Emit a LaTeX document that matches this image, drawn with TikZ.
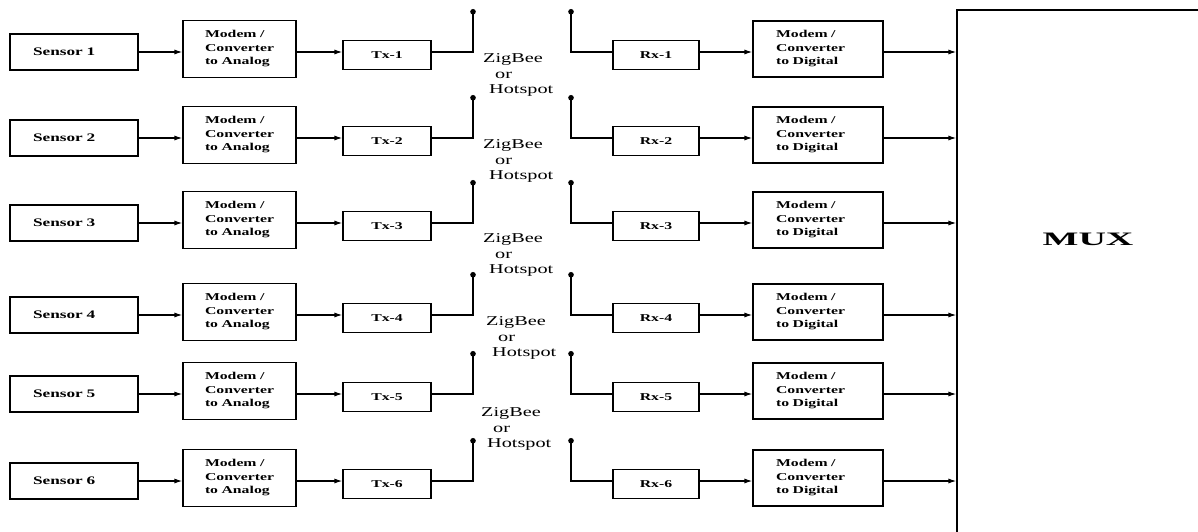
\documentclass[tikz,border=0pt]{standalone}
\usepackage{fontspec}
\setmainfont{Liberation Serif}[FakeStretch=1.5]
\newfontfamily\muxfont{Liberation Serif}[FakeStretch=2.0]
\usepackage{tikz}
\usetikzlibrary{arrows.meta}

\begin{document}
\begin{tikzpicture}[x=1pt, y=-1pt,
    blockbox/.style={draw, line width=1.1pt, inner ysep=0pt, align=left,
        font=\fontsize{10.5}{13.5}\selectfont\bfseries},
    arr/.style={line width=1.3pt, -{Latex[length=8pt,width=5pt]}},
    antout/.style={line width=1.3pt, -{Circle[length=5.5pt]}},
    antin/.style={line width=1.3pt, {Circle[length=5.5pt]}-},
    linklabel/.style={anchor=west, inner sep=0pt, align=left,
        font=\fontsize{13.5}{15.5}\selectfont}]
    \useasboundingbox (0,0) rectangle (1198,532);
    \clip (0,0) rectangle (1198,532);

    % receiver side block
    \node[draw, line width=1.1pt, minimum width=286pt, minimum height=550pt] (mux) at (1100,285) {};
    \node[inner sep=0pt, font=\muxfont\fontsize{19}{22}\selectfont\bfseries] (muxlabel) at (1088,239) {MUX};

    % one row per sensor
    \foreach \i/\y in {1/52, 2/138, 3/223, 4/315, 5/394, 6/481} {
        \node[blockbox, inner xsep=23pt, text width=82pt, minimum height=36pt,
            font=\fontsize{11.5}{13.5}\selectfont\bfseries] (sen\i) at (74,\y) {Sensor \i};
        \node[blockbox, inner xsep=22pt, text width=69pt, minimum height=57pt] (mod\i) at (239.5,\y-3) {Modem /\\Converter\\to Analog};
        \node[blockbox, inner xsep=0pt, minimum width=88pt, minimum height=29pt] (tx\i) at (387,\y+3) {Tx-\i};
        \coordinate (ta\i) at (473,\y-43);
        \coordinate (ra\i) at (571,\y-43);
        \node[blockbox, inner xsep=0pt, minimum width=86pt, minimum height=29pt] (rx\i) at (656,\y+3) {Rx-\i};
        \node[blockbox, inner xsep=23pt, text width=84pt, minimum height=56pt] (rxm\i) at (818,\y-3) {Modem /\\Converter\\to Digital};

        \draw[arr] (sen\i.east) -- (sen\i.east -| mod\i.west);
        \draw[arr] (mod\i.east |- sen\i) -- (tx\i.west |- sen\i);
        \draw[antout] (tx\i.east |- sen\i) -| (ta\i);
        \draw[antin] (ra\i) |- (rx\i.west |- sen\i);
        \draw[arr] (rx\i.east |- sen\i) -- (rxm\i.west |- sen\i);
        \draw[arr] (rxm\i.east |- sen\i) -- (mux.west |- sen\i);
    }

    % wireless link labels
    \foreach \k/\x/\y in {1/483/75, 2/483/161, 3/483/255, 4/486/338, 5/481/429} {
        \node[linklabel] (zb\k) at (\x,\y) {ZigBee\\\hspace*{12pt}or\\\hspace*{6pt}Hotspot};
    }
\end{tikzpicture}
\end{document}
